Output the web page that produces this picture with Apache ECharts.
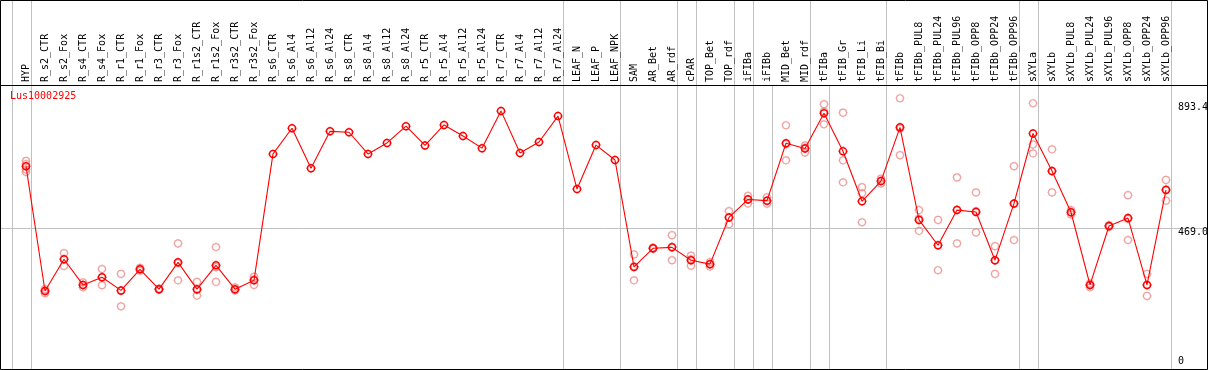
<!DOCTYPE html>
<html><head><meta charset="utf-8">
<script src="https://cdn.jsdelivr.net/npm/echarts@6/dist/echarts.min.js"></script>
<style>html,body{margin:0;padding:0;background:#fff}#c{width:1209px;height:370px}</style>
</head><body><div id="c"></div>
<script>
const chartTitle = 'Lus10002925';
const categories = ['HYP','R_s2_CTR','R_s2_Fox','R_s4_CTR','R_s4_Fox','R_r1_CTR','R_r1_Fox','R_r3_CTR','R_r3_Fox',
  'R_r1s2_CTR','R_r1s2_Fox','R_r3s2_CTR','R_r3s2_Fox','R_s6_CTR','R_s6_Al4','R_s6_Al12','R_s6_Al24',
  'R_s8_CTR','R_s8_Al4','R_s8_Al12','R_s8_Al24','R_r5_CTR','R_r5_Al4','R_r5_Al12','R_r5_Al24',
  'R_r7_CTR','R_r7_Al4','R_r7_Al12','R_r7_Al24','LEAF_N','LEAF_P','LEAF_NPK','SAM','AR_Bet','AR_rdf',
  'cPAR','TOP_Bet','TOP_rdf','iFIBa','iFIBb','MID_Bet','MID_rdf','tFIBa','tFIB_Gr','tFIB_Li','tFIB_Bi',
  'tFIBb','tFIBb_PUL8','tFIBb_PUL24','tFIBb_PUL96','tFIBb_OPP8','tFIBb_OPP24','tFIBb_OPP96',
  'sXYLa','sXYLb','sXYLb_PUL8','sXYLb_PUL24','sXYLb_PUL96','sXYLb_OPP8','sXYLb_OPP24','sXYLb_OPP96'];
const means = [671, 262, 366, 282, 307, 264, 333, 268, 356, 268, 346, 268, 297,
  711, 795, 664, 785, 782, 711, 747, 802, 739, 806, 770, 730, 852, 714, 750, 835,
  596, 740, 691, 341, 402, 405, 363, 350, 503, 562, 558, 746, 729,
  844, 720, 556, 622, 798, 495, 412, 527, 521, 363, 549,
  778, 655, 520, 282, 475, 501, 282, 593];
const replicates = [
  [688, 678, 660, 652], [268, 262, 255], [386, 366, 344], [290, 282, 274], [334, 307, 281],
  [318, 262, 212], [338, 333, 328], [270, 268, 266], [418, 353, 297], [292, 265, 247],
  [406, 340, 292], [274, 266, 264], [309, 300, 282],
  [], [], [], [], [], [], [], [], [], [], [], [], [], [], [], [], [], [], [],
  [382, 343, 297], [404, 402, 400], [445, 407, 363], [378, 366, 345], [357, 351, 342],
  [524, 504, 481], [574, 563, 549], [569, 558, 548], [805, 743, 690], [739, 732, 716],
  [874, 850, 808], [846, 690, 618], [602, 582, 487], [630, 622, 614],
  [893.4, 794, 707], [527, 499, 459], [495, 411, 330], [634, 529, 418], [585, 524, 454],
  [409, 362, 318], [671, 547, 429],
  [877, 742, 713], [726, 654, 585], [527, 520, 513], [287, 282, 274], [478, 475, 472],
  [576, 498, 429], [318, 282, 246], [626, 595, 558]];
const yTickValues = [0, 469.0, 893.4];
const yTickLabels = ['0', '469.0', '893.4'];
// group separators, drawn just after these category indices
const separatorsFull = [-1, 0, 28, 31, 34, 35, 37, 38, 41, 45, 52, 53, 60];
const separatorsPlot = [39, 42];

const FONT = 'DejaVu Sans Mono';
const RED = '#ff0000';
const PINK = '#ec8a8a';
const GRIDC = '#c0c0c0';
const markerPath = 'path://M0,-4.5V-3.5M0,3.5V4.5M-4.5,0H-3.5M3.5,0H4.5M3.5,0A3.5,3.5 0 1 1 -3.5,0A3.5,3.5 0 1 1 3.5,0';

const chart = echarts.init(document.getElementById('c'), null, {renderer: 'canvas'});
const repData = [];
replicates.forEach((arr, i) => arr.forEach(v => repData.push([i, v])));

chart.setOption({
  animation: false,
  backgroundColor: '#fff',
  title: {text: chartTitle, left: 10, top: 91, padding: 0,
    textStyle: {color: RED, fontSize: 10, fontWeight: 'normal', fontFamily: FONT}},
  grid: {left: 16.5, right: 33.5, top: 85, bottom: -1, containLabel: false, outerBoundsMode: 'none'},
  xAxis: {type: 'category', position: 'top', data: categories, boundaryGap: true,
    axisLine: {show: false}, axisTick: {show: false}, splitLine: {show: false},
    axisLabel: {rotate: 90, interval: 0, margin: 3, color: '#000', fontSize: 10, fontFamily: FONT}},
  yAxis: {type: 'value', min: 0, max: 936.8, show: false},
  series: [
    {type: 'scatter', data: repData, symbol: markerPath, symbolSize: 9, z: 2,
      itemStyle: {color: 'rgba(0,0,0,0)', borderColor: PINK, borderWidth: 1.2}},
    {type: 'line', data: means, symbol: markerPath, symbolSize: 9, showSymbol: true, showAllSymbol: true, z: 3,
      lineStyle: {color: RED, width: 1.1},
      itemStyle: {color: 'rgba(0,0,0,0)', borderColor: RED, borderWidth: 1.5}}
  ]
});

const x0 = chart.convertToPixel({xAxisIndex: 0}, categories[0]);
const step = chart.convertToPixel({xAxisIndex: 0}, categories[1]) - x0;
const yPix = v => chart.convertToPixel({yAxisIndex: 0}, v);
const yTop = yPix(936.8);
const frameR = 1207.5, frameB = 369.5;
const sepX = i => Math.round(x0 + i * step + 4.5) + 0.5;

const g = [];
g.push({type: 'rect', shape: {x: 0.5, y: 0.5, width: frameR - 0.5, height: frameB - 0.5},
  style: {fill: null, stroke: '#000', lineWidth: 1}, z: 5, silent: true});
g.push({type: 'line', shape: {x1: 0, y1: Math.round(yTop) + 0.5, x2: frameR, y2: Math.round(yTop) + 0.5},
  style: {stroke: '#000', lineWidth: 1}, z: 5, silent: true});
const gy = Math.round(yPix(yTickValues[1])) + 0.5;
g.push({type: 'line', shape: {x1: 1, y1: gy, x2: frameR, y2: gy}, style: {stroke: GRIDC, lineWidth: 1}, z: 0, silent: true});
separatorsFull.forEach(i => g.push({type: 'line', shape: {x1: sepX(i), y1: 0, x2: sepX(i), y2: frameB},
  style: {stroke: GRIDC, lineWidth: 1}, z: 0, silent: true}));
separatorsPlot.forEach(i => g.push({type: 'line', shape: {x1: sepX(i), y1: yTop, x2: sepX(i), y2: frameB},
  style: {stroke: GRIDC, lineWidth: 1}, z: 0, silent: true}));
const labelOffsets = [-9.5, 4.2, 9.2];
yTickValues.forEach((v, k) => g.push({type: 'text', x: 1178, y: yPix(v) + labelOffsets[k],
  style: {text: yTickLabels[k], fill: '#000', font: '10px "' + FONT + '"', textAlign: 'left', textVerticalAlign: 'middle'},
  z: 10, silent: true}));
chart.setOption({graphic: {elements: g}});
</script></body></html>
